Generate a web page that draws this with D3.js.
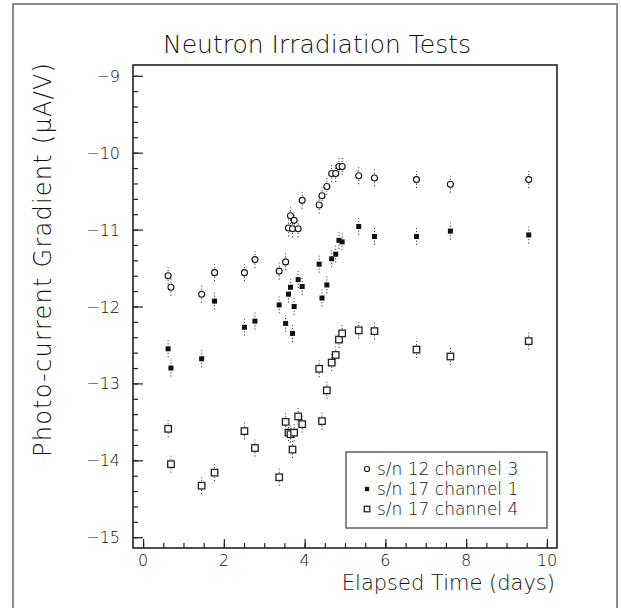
<!DOCTYPE html>
<html>
<head>
<meta charset="utf-8">
<script src="https://cdn.jsdelivr.net/npm/d3@7.9.0/dist/d3.min.js"></script>
<style>
  body { margin: 0; background: #fff; }
  svg text { font-family: "DejaVu Sans", sans-serif; font-weight: 200; fill: #111; }
</style>
</head>
<body>
<svg id="chart" width="621" height="608"></svg>
<script>
// ---- data ----
const days = [0.62, 0.69, 1.45, 1.77, 2.51, 2.77, 3.37, 3.53, 3.60, 3.65, 3.70, 3.74, 3.84,
              3.94, 4.36, 4.43, 4.55, 4.67, 4.77, 4.85, 4.93, 5.34, 5.73, 6.77, 7.61, 9.55];
// s/n 12 channel 3 (open circles)
const sn12ch3 = [-11.60, -11.75, -11.84, -11.56, -11.56, -11.39, -11.54, -11.42, -10.98, -10.82, -10.99, -10.88, -10.99,
                 -10.62, -10.68, -10.56, -10.44, -10.27, -10.27, -10.18, -10.18, -10.30, -10.33, -10.35, -10.41, -10.35];
// s/n 17 channel 1 (filled squares)
const sn17ch1 = [-12.55, -12.80, -12.68, -11.93, -12.27, -12.19, -11.98, -12.22, -11.84, -11.75, -12.35, -12.00, -11.65,
                 -11.74, -11.45, -11.89, -11.72, -11.38, -11.32, -11.14, -11.16, -10.96, -11.09, -11.09, -11.02, -11.07];
// s/n 17 channel 4 (open squares)
const sn17ch4 = [-13.59, -14.05, -14.33, -14.16, -13.62, -13.84, -14.22, -13.50, -13.64, -13.66, -13.86, -13.64, -13.43,
                 -13.53, -12.81, -13.49, -13.09, -12.73, -12.63, -12.43, -12.35, -12.31, -12.32, -12.56, -12.65, -12.45];
const errBar = 0.11;

const seriesNames = ["s/n 12 channel 3", "s/n 17 channel 1", "s/n 17 channel 4"];
const seriesValues = [sn12ch3, sn17ch1, sn17ch4];
const markerKinds = ["circle", "filled", "square"];

const xTicks = [0, 2, 4, 6, 8, 10];
const yTicks = [-9, -10, -11, -12, -13, -14, -15];

// ---- layout ----
const frame = { left: 133, right: 557, top: 65, bottom: 548 };

const svg = d3.select("#chart");

const x = d3.scaleLinear().domain([-0.25, 10.25]).range([frame.left, frame.right]);
const y = d3.scaleLinear().domain([-15.14, -8.86]).range([frame.bottom, frame.top]);

// outer grey border
svg.append("rect")
  .attr("x", 13).attr("y", 4).attr("width", 604).attr("height", 612)
  .attr("fill", "none").attr("stroke", "#8a8a8a").attr("stroke-width", 2);

// minor ticks first, major on top (all pointing inward)
const minorX = d3.range(0, 10.01, 0.5);
const minorY = d3.range(-15, -8.99, 0.2);

svg.append("g")
  .attr("transform", `translate(0,${frame.bottom})`)
  .call(d3.axisTop(x).tickValues(minorX).tickSize(5).tickFormat(""))
  .call(g => g.select(".domain").remove());
svg.append("g")
  .attr("transform", `translate(0,${frame.bottom})`)
  .call(d3.axisTop(x).tickValues(xTicks).tickSize(9).tickFormat(""))
  .call(g => g.select(".domain").remove());

svg.append("g")
  .attr("transform", `translate(${frame.left},0)`)
  .call(d3.axisRight(y).tickValues(minorY).tickSize(5).tickFormat(""))
  .call(g => g.select(".domain").remove());
svg.append("g")
  .attr("transform", `translate(${frame.left},0)`)
  .call(d3.axisRight(y).tickValues(yTicks).tickSize(10).tickFormat(""))
  .call(g => g.select(".domain").remove());

svg.selectAll(".tick line").attr("stroke", "#222").attr("stroke-width", 1.2);

// tick labels
svg.append("g").selectAll("text").data(xTicks).join("text")
  .attr("x", d => x(d)).attr("y", 566)
  .attr("text-anchor", "middle").attr("font-size", 16)
  .text(d => d);
svg.append("g").selectAll("text").data(yTicks).join("text")
  .attr("x", 120).attr("y", d => y(d) + 6)
  .attr("text-anchor", "end").attr("font-size", 16)
  .text(d => "\u2212" + Math.abs(d));

// frame
svg.append("rect")
  .attr("x", frame.left).attr("y", frame.top)
  .attr("width", frame.right - frame.left).attr("height", frame.bottom - frame.top)
  .attr("fill", "none").attr("stroke", "#222").attr("stroke-width", 1.6);

// error bars + markers
function drawMarker(g, kind, cx, cy, small) {
  const k = small ? 0.85 : 1;
  if (kind === "circle") {
    g.append("circle").attr("cx", cx).attr("cy", cy).attr("r", 3 * k)
      .attr("fill", "#fff").attr("stroke", "#111").attr("stroke-width", 1.1);
  } else if (kind === "filled") {
    const s = 5 * k;
    g.append("rect").attr("x", cx - s / 2).attr("y", cy - s / 2).attr("width", s).attr("height", s)
      .attr("fill", "#111");
  } else {
    const s = 6.5 * k;
    g.append("rect").attr("x", cx - s / 2).attr("y", cy - s / 2).attr("width", s).attr("height", s)
      .attr("fill", "#fff").attr("stroke", "#222").attr("stroke-width", 1.3);
  }
}

seriesValues.forEach((vals, si) => {
  const g = svg.append("g");
  vals.forEach((v, i) => {
    g.append("line")
      .attr("x1", x(days[i])).attr("x2", x(days[i]))
      .attr("y1", y(v - errBar)).attr("y2", y(v + errBar))
      .attr("stroke", "#333").attr("stroke-width", 1)
      .attr("stroke-dasharray", "1.2,2");
  });
  vals.forEach((v, i) => drawMarker(g, markerKinds[si], x(days[i]), y(v), false));
});

// legend
const lg = svg.append("g");
lg.append("rect")
  .attr("x", 346).attr("y", 452).attr("width", 201).attr("height", 76)
  .attr("fill", "#fff").attr("stroke", "#555").attr("stroke-width", 1.4);
seriesNames.forEach((name, i) => {
  const cy = 469 + i * 20;
  drawMarker(lg, markerKinds[i], 367, cy, true);
  lg.append("text").attr("x", 377).attr("y", cy + 6).attr("font-size", 17).text(name);
});

// titles
svg.append("text")
  .attr("x", 317).attr("y", 53).attr("text-anchor", "middle").attr("font-size", 25)
  .text("Neutron Irradiation Tests");
svg.append("text")
  .attr("x", 555).attr("y", 590).attr("text-anchor", "end").attr("font-size", 21)
  .text("Elapsed Time (days)");
svg.append("text")
  .attr("transform", "translate(51,260) rotate(-90)")
  .attr("text-anchor", "middle").attr("font-size", 24)
  .attr("textLength", 394).attr("lengthAdjust", "spacing")
  .text("Photo-current Gradient (\u03bcA/V)");
</script>
</body>
</html>
